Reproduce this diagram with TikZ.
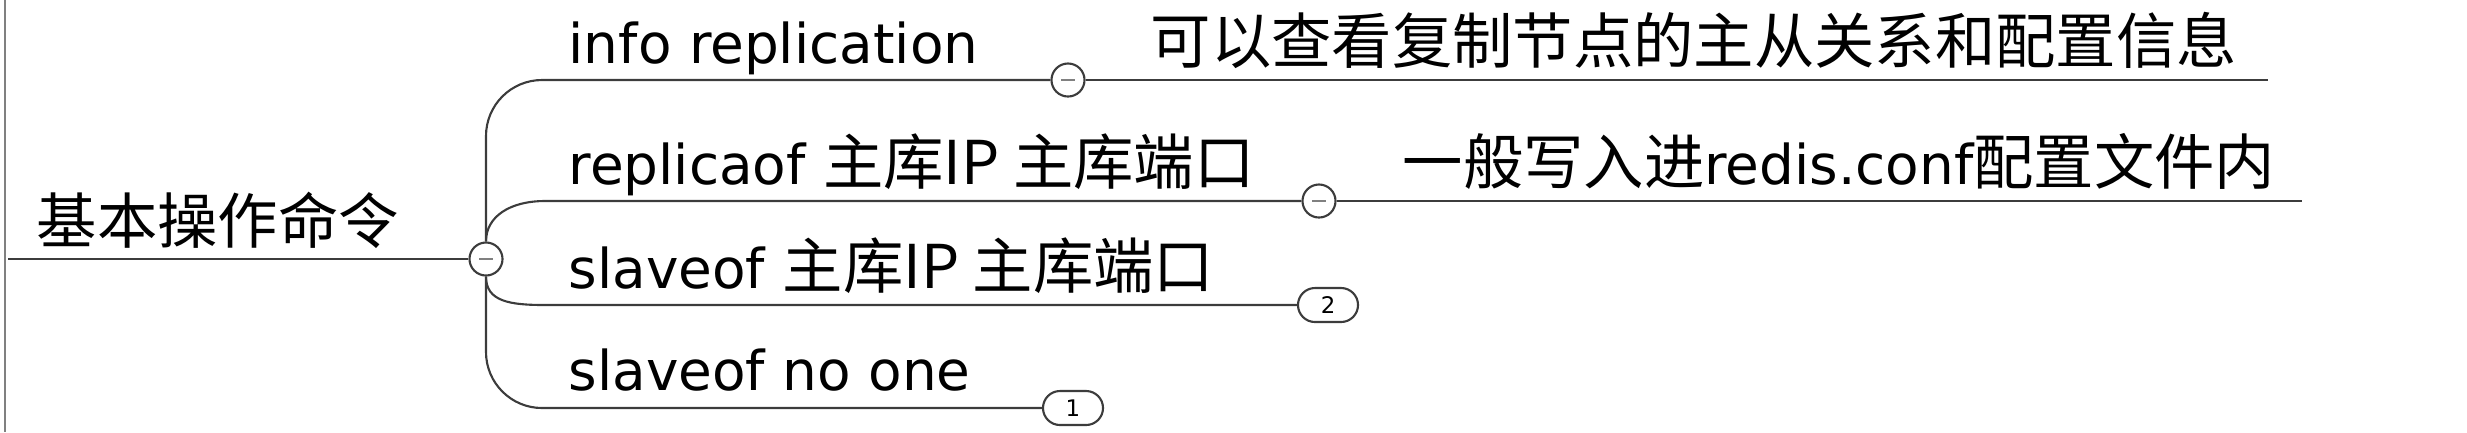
\documentclass[tikz,border=0pt]{standalone}
\usepackage{fontspec}
\setmainfont{DejaVu Sans}
\newfontfamily\cjk[Scale=1.1]{Noto Sans CJK SC}
\definecolor{linegray}{HTML}{3C3C3C}
\tikzset{
  cmd/.style={anchor=base west, inner sep=0pt},
  branch/.style={draw=linegray, line width=0.6pt},
  fold/.style={circle, draw=linegray, line width=0.6pt, fill=white,
    minimum size=0.33cm, inner sep=0pt,
    path picture={\draw[gray, line width=0.8pt]
      (path picture bounding box.center) +(-7,0) -- +(7,0);}},
  count/.style={draw=linegray, line width=0.6pt, fill=white,
    rounded corners=0.17cm, minimum width=0.6cm, minimum height=0.34cm,
    inner sep=0pt, font=\fontsize{6.5}{7}\selectfont}
}
\begin{document}
\begin{tikzpicture}[x=0.01cm, y=-0.01cm, font=\fontsize{15.6}{18}\selectfont]
  \useasboundingbox (0,0) rectangle (2467,432);
  \draw[gray, line width=0.6pt] (5,0) -- (5,432);
  % root
  \node[cmd] (root) at (36,243) {\cjk 基本操作命令};
  \node[fold] (f0) at (486,259) {};
  \coordinate (r0) at (8,259);
  \draw[branch] (r0) -- (f0.west);
  % commands
  \node[cmd] (info) at (568,63) {info replication};
  \node[cmd] (rep) at (568,184) {replicaof {\cjk 主库IP 主库端口}};
  \node[cmd] (slave) at (568,288) {slaveof {\cjk 主库IP 主库端口}};
  \node[cmd] (noone) at (568,390) {slaveof no one};
  \node[fold] (f1) at (1068,80) {};
  \node[fold] (f2) at (1319,201) {};
  \node[count] (n2) at (1328,305) {2};
  \node[count] (n1) at (1073,408) {1};
  \coordinate (c2) at (545,201);
  \coordinate (c3) at (545,305);
  \draw[branch, rounded corners=0.56cm] (f0.north) |- (f1.west);
  \draw[branch] (f0.north) .. controls +(0,-25) and +(-35,0) .. (c2) -- (f2.west);
  \draw[branch] (f0.south) .. controls +(0,25) and +(-35,0) .. (c3) -- (n2.west);
  \draw[branch, rounded corners=0.56cm] (f0.south) |- (n1.west);
  % notes
  \node[cmd] (note1) at (1150,63) {\cjk 可以查看复制节点的主从关系和配置信息};
  \node[cmd] (note2) at (1402,184) {\cjk 一般写入进{\rmfamily redis.conf}配置文件内};
  \coordinate (e1) at (2268,80);
  \coordinate (e2) at (2302,201);
  \draw[branch] (f1.east) -- (e1);
  \draw[branch] (f2.east) -- (e2);
\end{tikzpicture}
\end{document}
